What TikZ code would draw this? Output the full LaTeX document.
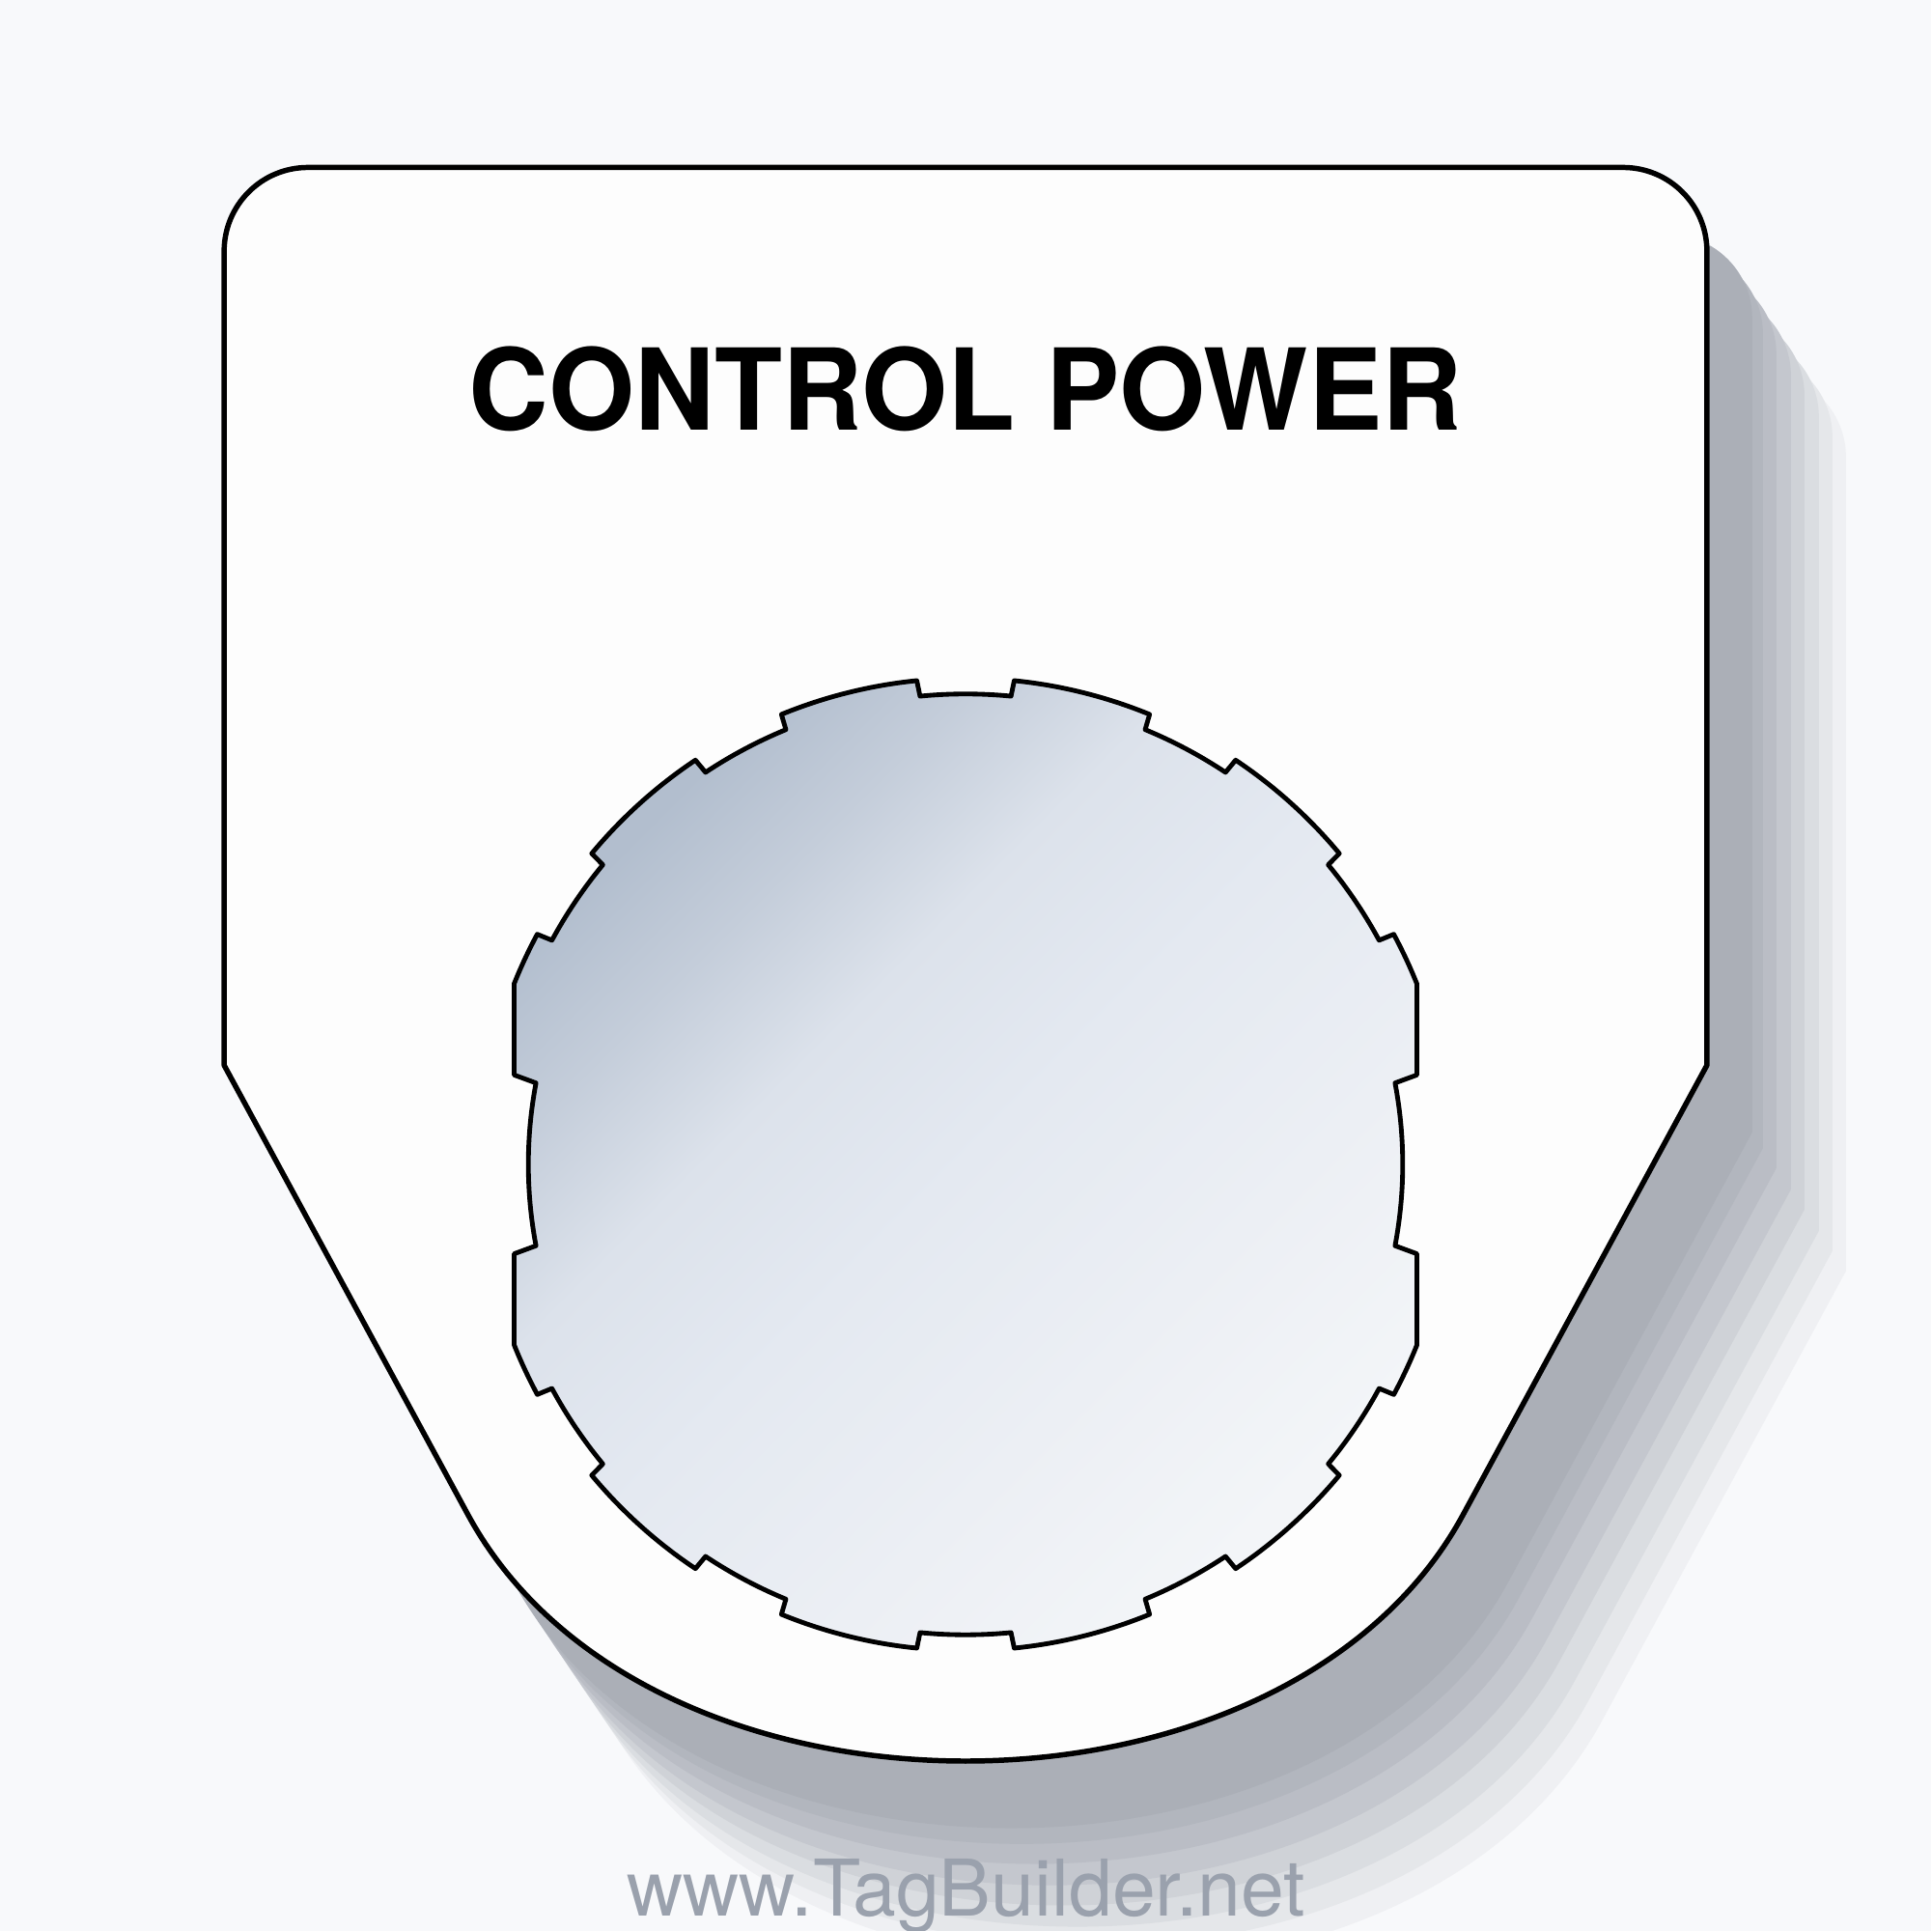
\documentclass[tikz,border=0pt]{standalone}
\usepackage{fontspec}
\newfontfamily\heros{TeX Gyre Heros}
\definecolor{bgc}{HTML}{F8F9FB}
\definecolor{tagc}{HTML}{FDFDFD}
\definecolor{wmc}{HTML}{9AA1AD}
\definecolor{shA}{HTML}{ABAFB7}
\definecolor{shB}{HTML}{B2B6BE}
\definecolor{shC}{HTML}{BABDC5}
\definecolor{shD}{HTML}{C4C7CE}
\definecolor{shE}{HTML}{CFD2D7}
\definecolor{shF}{HTML}{DADDE1}
\definecolor{shG}{HTML}{E5E7EA}
\definecolor{shH}{HTML}{EFF0F3}
\definecolor{cD}{HTML}{B2BECE}
\definecolor{cD2}{HTML}{C4CDDA}
\definecolor{cM1}{HTML}{DCE2EB}
\definecolor{cM}{HTML}{E4E9F1}
\definecolor{cM2}{HTML}{ECEFF4}
\definecolor{cL}{HTML}{F3F5F8}
\pgfdeclareverticalshading{circshade}{100bp}{color(0bp)=(cL); color(25bp)=(cL); color(37bp)=(cM2); color(50bp)=(cM); color(60bp)=(cM1); color(68bp)=(cD2); color(75bp)=(cD); color(100bp)=(cD)}
\newcommand\tagoutline{(182,1364) -- (182,703) -- (380,338) .. controls (524.7,71.3) and (1043.3,71.3) .. (1188,338) -- (1386,703) -- (1386,1364) arc[start angle=0,end angle=90,radius=68] -- (250,1432) arc[start angle=90,end angle=180,radius=68] -- cycle}
\tikzset{
  tagline/.style={draw=black, line width=4.3pt, line join=round, fill=tagc},
  circline/.style={draw=black, line width=3.8pt, line join=round, shading=circshade, shading angle=45},
  shadowlayer/.style={fill=#1, draw=none}
}
\begin{document}
\begin{tikzpicture}[x=1pt,y=1pt]
\useasboundingbox (0,0) rectangle (1568,1568);
\fill[bgc] (0,0) rectangle (1568,1568);
% shadow layers
\fill[shadowlayer=shH, shift={(112.9,-167.1)}] \tagoutline;
\fill[shadowlayer=shG, shift={(101.9,-150.8)}] \tagoutline;
\fill[shadowlayer=shF, shift={(90.9,-134.5)}] \tagoutline;
\fill[shadowlayer=shE, shift={(79.2,-117.2)}] \tagoutline;
\fill[shadowlayer=shD, shift={(68.2,-100.9)}] \tagoutline;
\fill[shadowlayer=shC, shift={(56.4,-83.5)}] \tagoutline;
\fill[shadowlayer=shB, shift={(45.5,-67.3)}] \tagoutline;
\fill[shadowlayer=shA, shift={(36.8,-54.5)}] \tagoutline;
% tag
\path[tagline] \tagoutline;
\node[inner sep=0] (tag) at (784,780) {};
% cut-out
\begin{scope}[shift={(784,622.5)}]
\path[circline] (-10.73:355) arc[start angle=-10.73, end angle=10.73, radius=355]
 -- (366.5,72.6) -- (366.5,146.6) arc[start angle=21.8, end angle=28.25, radius=394.8]
 -- (28.45:382) arc[start angle=28.45, end angle=39.55, radius=382]
 -- (39.75:394.8) arc[start angle=39.75, end angle=56.25, radius=394.8]
 -- (56.45:382) arc[start angle=56.45, end angle=67.55, radius=382]
 -- (67.75:394.8) arc[start angle=67.75, end angle=84.25, radius=394.8]
 -- (84.45:382) arc[start angle=84.45, end angle=95.55, radius=382]
 -- (95.75:394.8) arc[start angle=95.75, end angle=112.25, radius=394.8]
 -- (112.45:382) arc[start angle=112.45, end angle=123.55, radius=382]
 -- (123.75:394.8) arc[start angle=123.75, end angle=140.25, radius=394.8]
 -- (140.45:382) arc[start angle=140.45, end angle=151.55, radius=382]
 -- (151.75:394.8) arc[start angle=151.75, end angle=158.2, radius=394.8]
 -- (-366.5,72.6) -- (169.27:355) arc[start angle=169.27, end angle=190.73, radius=355]
 -- (-366.5,-72.6) -- (-366.5,-146.6) arc[start angle=201.8, end angle=208.25, radius=394.8]
 -- (208.45:382) arc[start angle=208.45, end angle=219.55, radius=382]
 -- (219.75:394.8) arc[start angle=219.75, end angle=236.25, radius=394.8]
 -- (236.45:382) arc[start angle=236.45, end angle=247.55, radius=382]
 -- (247.75:394.8) arc[start angle=247.75, end angle=264.25, radius=394.8]
 -- (264.45:382) arc[start angle=264.45, end angle=275.55, radius=382]
 -- (275.75:394.8) arc[start angle=275.75, end angle=292.25, radius=394.8]
 -- (292.45:382) arc[start angle=292.45, end angle=303.55, radius=382]
 -- (303.75:394.8) arc[start angle=303.75, end angle=320.25, radius=394.8]
 -- (320.45:382) arc[start angle=320.45, end angle=331.55, radius=382]
 -- (331.75:394.8) arc[start angle=331.75, end angle=338.2, radius=394.8]
 -- (366.5,-72.6) -- cycle;
\end{scope}
% texts
\node[inner sep=0, anchor=base] (title) at (784,1219)
  {\scalebox{0.98}[1]{\fontsize{91.7}{100}\selectfont\heros\bfseries CONTROL POWER}};
\node[inner sep=0, anchor=base, text=wmc] (wm) at (784.3,12)
  {\scalebox{0.995}[1]{\fontsize{63.5}{70}\selectfont\heros www.TagBuilder.net}};
\end{tikzpicture}
\end{document}
